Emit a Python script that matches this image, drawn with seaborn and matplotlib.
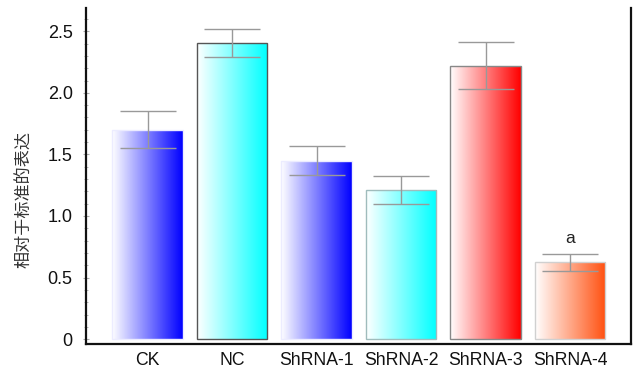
import numpy as np
import pandas as pd
import matplotlib
matplotlib.use("Agg")
import matplotlib.pyplot as plt
import seaborn as sns
from matplotlib.colors import LinearSegmentedColormap
from matplotlib.ticker import MultipleLocator

categories = ["CK", "NC", "ShRNA-1", "ShRNA-2", "ShRNA-3", "ShRNA-4"]
values = [1.70, 2.405, 1.45, 1.21, 2.22, 0.625]
errors = [0.15, 0.115, 0.12, 0.115, 0.19, 0.07]
bar_colors = ["#0000ff", "#00ffff", "#0000ff", "#00ffff", "#ff0000", "#ff5010"]
edge_colors = ["#ececff", "#555555", "#ececff", "#9fbcbc", "#888888", "#d0d0d0"]
annotations = ["", "", "", "", "", "a"]
ylabel = "相对于标准的表达"
yticks = [0, 0.5, 1.0, 1.5, 2.0, 2.5]
ytick_labels = ["0", "0.5", "1.0", "1.5", "2.0", "2.5"]

sns.set_theme(style="white")
plt.rcParams['font.family'] = ['Liberation Sans', 'Noto Sans CJK SC', 'DejaVu Sans']

df = pd.DataFrame({"cat": categories, "val": values})

fig = plt.figure(figsize=(6.36, 3.74), dpi=100)
ax = fig.add_axes([0.135, 0.080, 0.857, 0.899])

sns.barplot(data=df, x="cat", y="val", ax=ax, width=0.83, color="white",
            errorbar=None, zorder=1)

xlim = (-0.73, 5.72)
ylim = (-0.04, 2.69)
for i, p in enumerate(ax.patches):
    x0, w, h = p.get_x(), p.get_width(), p.get_height()
    p.set_edgecolor(edge_colors[i])
    p.set_linewidth(1.0)
    p.set_facecolor("none")
    p.set_zorder(3)
    cmap = LinearSegmentedColormap.from_list("g", ["#ffffff", bar_colors[i]])
    grad = np.linspace(0, 1, 256).reshape(1, -1)
    im = ax.imshow(grad, cmap=cmap, aspect="auto", extent=[x0, x0 + w, 0, h],
                   zorder=2, interpolation="bilinear")
    im.set_clip_path(p)

ax.errorbar(np.arange(len(categories)), values, yerr=errors, fmt="none",
            ecolor="#999999", elinewidth=1.0, capsize=20.5, capthick=1.0, zorder=4)

for i, t in enumerate(annotations):
    if t:
        ax.text(i, values[i] + errors[i] + 0.06, t, ha="center", va="bottom",
                fontsize=12.5, color="#222222")

ax.set_xlim(*xlim)
ax.set_ylim(*ylim)
ax.set_yticks(yticks)
ax.set_yticklabels(ytick_labels, fontsize=13, color="#111111")
ax.yaxis.set_minor_locator(MultipleLocator(0.1))
ax.tick_params(axis="y", which="major", direction="inout", length=5, width=0.8,
               color="#aaaaaa", left=True, pad=7)
ax.tick_params(axis="y", which="minor", direction="inout", length=3, width=0.6,
               color="#aaaaaa", left=True)
ax.tick_params(axis="x", length=0, labelsize=12.7, labelcolor="#111111", pad=6)
ax.set_xlabel("")
ax.set_ylabel(ylabel, fontsize=12.3, color="#333333")
ax.yaxis.set_label_coords(-0.099, 0.43)

for s in ["left", "bottom", "right"]:
    ax.spines[s].set_visible(True)
    ax.spines[s].set_color("#111111")
    ax.spines[s].set_linewidth(1.6)
ax.spines["top"].set_visible(False)

fig.savefig("out.png", dpi=100)
